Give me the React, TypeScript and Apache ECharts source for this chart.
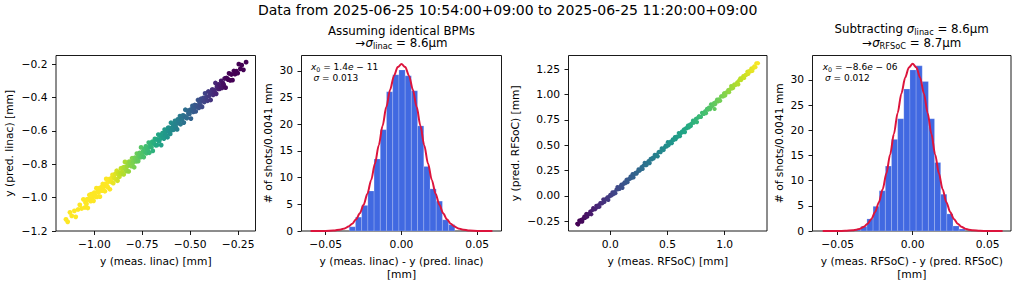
import React, { useEffect, useRef } from "react";
import * as echarts from "echarts";

// ---------- data ----------
const linacMeas = [
  -1.148, -1.139, -1.127, -1.118, -1.104, -1.097, -1.085, -1.076, -1.066, -1.057,
  -1.049, -1.046, -1.041, -1.038, -1.034, -1.031, -1.026, -1.022, -1.019, -1.015,
  -1.012, -1.007, -1.004, -1.0, -0.997, -0.993, -0.989, -0.986, -0.981, -0.978,
  -0.975, -0.971, -0.967, -0.964, -0.96, -0.956, -0.953, -0.949, -0.945, -0.942,
  -0.938, -0.935, -0.93, -0.927, -0.924, -0.919, -0.916, -0.912, -0.909, -0.905,
  -0.901, -0.898, -0.894, -0.89, -0.887, -0.883, -0.879, -0.876, -0.872, -0.869,
  -0.865, -0.861, -0.858, -0.854, -0.85, -0.847, -0.843, -0.84, -0.836, -0.832,
  -0.829, -0.825, -0.821, -0.818, -0.814, -0.811, -0.807, -0.803, -0.8, -0.796,
  -0.792, -0.789, -0.785, -0.782, -0.778, -0.774, -0.771, -0.767, -0.763, -0.76,
  -0.756, -0.753, -0.749, -0.745, -0.742, -0.738, -0.734, -0.731, -0.727, -0.724,
  -0.72, -0.716, -0.713, -0.709, -0.705, -0.702, -0.698, -0.695, -0.691, -0.687,
  -0.684, -0.68, -0.676, -0.673, -0.669, -0.666, -0.662, -0.658, -0.655, -0.651,
  -0.647, -0.644, -0.64, -0.637, -0.633, -0.629, -0.626, -0.622, -0.618, -0.615,
  -0.611, -0.608, -0.604, -0.6, -0.597, -0.593, -0.589, -0.586, -0.582, -0.579,
  -0.575, -0.571, -0.568, -0.564, -0.56, -0.557, -0.553, -0.55, -0.546, -0.542,
  -0.537, -0.533, -0.529, -0.525, -0.521, -0.517, -0.513, -0.509, -0.504, -0.5,
  -0.496, -0.492, -0.488, -0.484, -0.48, -0.476, -0.471, -0.467, -0.463, -0.459,
  -0.455, -0.451, -0.447, -0.443, -0.438, -0.434, -0.43, -0.426, -0.422, -0.418,
  -0.414, -0.409, -0.405, -0.401, -0.397, -0.393, -0.389, -0.385, -0.38, -0.376,
  -0.372, -0.368, -0.364, -0.36, -0.355, -0.351, -0.347, -0.343, -0.338, -0.334,
  -0.329, -0.325, -0.32, -0.315, -0.311, -0.306, -0.302, -0.297, -0.291, -0.285,
  -0.279, -0.272, -0.266, -0.259, -0.252, -0.246, -0.238, -0.231, -0.222, -0.208,
];
const linacPred = [
  -1.13, -1.145, -1.088, -1.109, -1.079, -1.115, -1.071, -1.043, -1.065, -1.01,
  -1.059, -1.029, -1.037, -1.01, -1.062, -1.009, -0.984, -1.012, -1.021, -0.979,
  -1.005, -0.984, -1.019, -0.97, -0.985, -0.994, -0.943, -0.995, -0.961, -0.969,
  -0.944, -0.994, -0.95, -0.938, -0.958, -0.918, -0.957, -0.935, -0.962, -0.917,
  -0.888, -0.929, -0.937, -0.905, -0.89, -0.95, -0.901, -0.884, -0.907, -0.864,
  -0.913, -0.878, -0.884, -0.857, -0.889, -0.839, -0.899, -0.858, -0.849, -0.875,
  -0.853, -0.825, -0.857, -0.847, -0.82, -0.861, -0.817, -0.786, -0.832, -0.841,
  -0.814, -0.8, -0.843, -0.784, -0.805, -0.789, -0.811, -0.764, -0.794, -0.782,
  -0.818, -0.761, -0.765, -0.783, -0.736, -0.764, -0.781, -0.75, -0.732, -0.758,
  -0.699, -0.755, -0.737, -0.722, -0.757, -0.708, -0.727, -0.693, -0.734, -0.706,
  -0.719, -0.67, -0.731, -0.694, -0.679, -0.698, -0.665, -0.72, -0.669, -0.677,
  -0.648, -0.686, -0.651, -0.685, -0.652, -0.622, -0.663, -0.649, -0.625, -0.685,
  -0.627, -0.613, -0.634, -0.646, -0.592, -0.615, -0.628, -0.599, -0.638, -0.581,
  -0.604, -0.582, -0.618, -0.551, -0.595, -0.581, -0.561, -0.593, -0.564, -0.54,
  -0.579, -0.556, -0.591, -0.531, -0.538, -0.553, -0.511, -0.56, -0.521, -0.532,
  -0.507, -0.55, -0.512, -0.473, -0.52, -0.523, -0.479, -0.497, -0.498, -0.474,
  -0.526, -0.47, -0.45, -0.486, -0.465, -0.445, -0.483, -0.447, -0.454, -0.415,
  -0.462, -0.428, -0.445, -0.407, -0.456, -0.42, -0.402, -0.427, -0.375, -0.411,
  -0.397, -0.419, -0.364, -0.391, -0.372, -0.415, -0.371, -0.352, -0.384, -0.354,
  -0.368, -0.313, -0.378, -0.334, -0.348, -0.321, -0.348, -0.331, -0.3, -0.343,
  -0.314, -0.324, -0.286, -0.341, -0.283, -0.286, -0.293, -0.255, -0.297, -0.262,
  -0.296, -0.241, -0.26, -0.242, -0.254, -0.2, -0.228, -0.206, -0.234, -0.188,
];

const rfsocMeas = [
  -0.289, -0.281, -0.271, -0.263, -0.254, -0.245, -0.237, -0.227, -0.219, -0.21,
  -0.201, -0.193, -0.183, -0.175, -0.166, -0.157, -0.149, -0.139, -0.131, -0.122,
  -0.113, -0.105, -0.095, -0.087, -0.078, -0.069, -0.061, -0.051, -0.043, -0.034,
  -0.025, -0.017, -0.007, 0.001, 0.01, 0.019, 0.027, 0.037, 0.045, 0.054,
  0.063, 0.071, 0.081, 0.089, 0.098, 0.107, 0.115, 0.125, 0.133, 0.142,
  0.151, 0.159, 0.169, 0.177, 0.186, 0.195, 0.203, 0.213, 0.221, 0.23,
  0.239, 0.247, 0.257, 0.265, 0.274, 0.283, 0.291, 0.301, 0.309, 0.318,
  0.327, 0.335, 0.345, 0.353, 0.362, 0.371, 0.379, 0.389, 0.397, 0.406,
  0.415, 0.423, 0.433, 0.441, 0.45, 0.459, 0.467, 0.477, 0.485, 0.494,
  0.503, 0.511, 0.521, 0.529, 0.538, 0.547, 0.555, 0.565, 0.573, 0.582,
  0.591, 0.599, 0.609, 0.617, 0.626, 0.635, 0.643, 0.653, 0.661, 0.67,
  0.679, 0.687, 0.697, 0.705, 0.714, 0.723, 0.731, 0.741, 0.749, 0.758,
  0.767, 0.775, 0.785, 0.793, 0.802, 0.811, 0.819, 0.829, 0.837, 0.846,
  0.855, 0.863, 0.873, 0.881, 0.89, 0.899, 0.907, 0.917, 0.925, 0.934,
  0.943, 0.951, 0.961, 0.969, 0.978, 0.987, 0.995, 1.005, 1.013, 1.022,
  1.031, 1.039, 1.049, 1.057, 1.066, 1.075, 1.083, 1.093, 1.101, 1.11,
  1.119, 1.127, 1.137, 1.145, 1.154, 1.163, 1.171, 1.181, 1.189, 1.198,
  1.207, 1.215, 1.225, 1.233, 1.242, 1.251, 1.259, 1.269, 1.277, 1.291,
  0.912,
];
const rfsocPred = [
  -0.275, -0.282, -0.244, -0.255, -0.236, -0.254, -0.226, -0.204, -0.216, -0.178,
  -0.205, -0.18, -0.178, -0.155, -0.181, -0.141, -0.12, -0.13, -0.13, -0.097,
  -0.111, -0.093, -0.107, -0.071, -0.073, -0.072, -0.035, -0.059, -0.033, -0.031,
  -0.013, -0.039, -0.004, 0.01, 0.004, 0.035, 0.017, 0.038, 0.027, 0.062,
  0.087, 0.067, 0.069, 0.095, 0.112, 0.08, 0.117, 0.135, 0.127, 0.16,
  0.136, 0.164, 0.168, 0.19, 0.177, 0.215, 0.183, 0.217, 0.228, 0.219,
  0.239, 0.262, 0.25, 0.262, 0.285, 0.267, 0.3, 0.327, 0.304, 0.305,
  0.329, 0.343, 0.324, 0.367, 0.36, 0.377, 0.369, 0.406, 0.393, 0.407,
  0.391, 0.433, 0.438, 0.433, 0.469, 0.458, 0.453, 0.48, 0.497, 0.488,
  0.531, 0.502, 0.521, 0.536, 0.521, 0.558, 0.552, 0.581, 0.561, 0.586,
  0.584, 0.62, 0.59, 0.619, 0.635, 0.63, 0.656, 0.63, 0.667, 0.669,
  0.694, 0.676, 0.705, 0.69, 0.717, 0.743, 0.723, 0.739, 0.76, 0.729,
  0.772, 0.787, 0.781, 0.78, 0.82, 0.812, 0.81, 0.836, 0.817, 0.86,
  0.852, 0.872, 0.857, 0.904, 0.884, 0.899, 0.917, 0.905, 0.929, 0.951,
  0.933, 0.953, 0.939, 0.982, 0.984, 0.982, 1.014, 0.991, 1.021, 1.021,
  1.045, 1.024, 1.055, 1.085, 1.062, 1.067, 1.1, 1.096, 1.1, 1.122,
  1.101, 1.141, 1.161, 1.144, 1.164, 1.183, 1.164, 1.194, 1.195, 1.226,
  1.205, 1.232, 1.229, 1.258, 1.233, 1.262, 1.279, 1.271, 1.309, 1.31,
  0.858,
];

// histogram bins (edges) and heights, "# of shots / 0.0041 mm"
const linacEdges = [
  -0.0345, -0.0304, -0.0263, -0.0222, -0.0181, -0.014, -0.0099, -0.0058, -0.0017,
  0.0024, 0.0065, 0.0106, 0.0147, 0.0188, 0.0229, 0.027, 0.0311, 0.0352,
];
const linacCounts = [0.8, 2.6, 4.8, 7.5, 13.5, 19, 26.1, 29.3, 30.2, 29.1, 26.3, 19.7, 12.1, 7.9, 5.6, 2.1, 1.2];

const rfsocEdges = [
  -0.0387, -0.0346, -0.0305, -0.0264, -0.0223, -0.0182, -0.0141, -0.01, -0.0059, -0.0018,
  0.0023, 0.0064, 0.0105, 0.0146, 0.0187, 0.0228, 0.0269, 0.031, 0.0351,
];
const rfsocCounts = [0.4, 0.9, 2.4, 4.9, 8.0, 12.9, 18.2, 22.3, 28.2, 32.0, 32.8, 29.7, 22.3, 13.6, 7.3, 3.4, 1.0, 0.4];

// fitted gaussian curves
const fitX = [
  -0.06, -0.055, -0.05, -0.045, -0.04, -0.0375, -0.035, -0.0325, -0.03, -0.0275, -0.025,
  -0.0225, -0.02, -0.0175, -0.015, -0.0125, -0.01, -0.0075, -0.005, -0.0025, 0,
  0.0025, 0.005, 0.0075, 0.01, 0.0125, 0.015, 0.0175, 0.02, 0.0225, 0.025,
  0.0275, 0.03, 0.0325, 0.035, 0.0375, 0.04, 0.045, 0.05, 0.055, 0.06,
];
const fitLinac = [
  0.0, 0.004, 0.019, 0.078, 0.28, 0.49, 0.83, 1.38, 2.18, 3.34, 4.93,
  7.0, 9.58, 12.65, 16.09, 19.71, 23.28, 26.5, 29.07, 30.73, 31.3,
  30.73, 29.07, 26.5, 23.28, 19.71, 16.09, 12.65, 9.58, 7.0, 4.93,
  3.34, 2.18, 1.38, 0.83, 0.49, 0.28, 0.078, 0.019, 0.004, 0.0,
];
const fitRfsoc = [
  0.0, 0.0, 0.005, 0.03, 0.13, 0.25, 0.47, 0.85, 1.46, 2.4, 3.79,
  5.72, 8.28, 11.46, 15.2, 19.3, 23.46, 27.31, 30.44, 32.49, 33.2,
  32.49, 30.44, 27.31, 23.46, 19.3, 15.2, 11.46, 8.28, 5.72, 3.79,
  2.4, 1.46, 0.85, 0.47, 0.25, 0.13, 0.03, 0.005, 0.0, 0.0,
];

// tick values
const ticksLinacX = [-1.0, -0.75, -0.5, -0.25];
const ticksLinacY = [-1.2, -1.0, -0.8, -0.6, -0.4, -0.2];
const ticksHistX = [-0.05, 0, 0.05];
const ticksHistY = [0, 5, 10, 15, 20, 25, 30];
const ticksRfsocX = [0, 0.5, 1.0];
const ticksRfsocY = [-0.25, 0, 0.25, 0.5, 0.75, 1.0, 1.25];

// ---------- styling ----------
const FONT = "DejaVu Sans";
const VIRIDIS = [
  "#440154", "#482475", "#414487", "#355f8d", "#2a788e", "#21918c",
  "#22a884", "#44bf70", "#7ad151", "#bddf26", "#fde725",
];
const TICK_FS = 10.7;

function fmt(v: number, d: number): string {
  const s = Math.abs(v) < 1e-12 ? (0).toFixed(d) : v.toFixed(d);
  return s.replace("-", "\u2212");
}

function valueAxis(o: {
  gridIndex: number; min: number; max: number; ticks: number[]; decimals: number;
  name: string; nameGap: number; isY: boolean;
}) {
  return {
    type: "value",
    gridIndex: o.gridIndex,
    min: o.min,
    max: o.max,
    name: o.name,
    nameLocation: "middle",
    nameGap: o.nameGap,
    nameRotate: o.isY ? 90 : 0,
    nameTextStyle: { color: "#000", fontFamily: FONT, fontSize: TICK_FS, lineHeight: 13.3 },
    axisLine: { show: false, onZero: false },
    axisTick: {
      show: true, inside: false, length: 4,
      lineStyle: { color: "#000", width: 0.9 },
      customValues: o.ticks,
    },
    axisLabel: {
      show: true, color: "#000", fontFamily: FONT, fontSize: TICK_FS,
      margin: o.isY ? 8.5 : 8,
      customValues: o.ticks,
      formatter: (v: number) => fmt(v, o.decimals),
    },
    splitLine: { show: false },
  };
}

function richStyles(size: number, lh: number, subH: number) {
  return {
    n: { fontFamily: FONT, fontSize: size, fill: "#000", lineHeight: lh },
    i: { fontFamily: FONT, fontSize: size, fontStyle: "italic", fill: "#000", lineHeight: lh },
    s: { fontFamily: FONT, fontSize: size * 0.7, fill: "#000", lineHeight: subH, verticalAlign: "bottom" },
  };
}

function gText(x: number, y: number, text: string, size: number, align: string, rich?: any) {
  return {
    type: "text",
    x, y,
    silent: true,
    style: {
      text,
      fontFamily: FONT,
      fontSize: size,
      fill: "#000",
      align,
      verticalAlign: "middle",
      textAlign: align,
      textVerticalAlign: "middle",
      rich,
    },
  };
}

function histRender(params: any, api: any) {
  const x0 = api.value(0);
  const x1 = api.value(1);
  const h = api.value(2);
  const p0 = api.coord([x0, h]);
  const p1 = api.coord([x1, 0]);
  return {
    type: "rect",
    shape: { x: p0[0], y: p0[1], width: p1[0] - p0[0], height: p1[1] - p0[1] },
    style: { fill: "#4169E1", stroke: "rgba(255,255,255,0.3)", lineWidth: 0.6 },
  };
}

const GRIDS = [
  { left: 56, width: 199.5 },
  { left: 301.5, width: 200 },
  { left: 568.5, width: 198.5 },
  { left: 812.5, width: 198.5 },
];

export default function App() {
  const ref = useRef<HTMLDivElement>(null);

  useEffect(() => {
    if (!ref.current) return;
    const chart = echarts.init(ref.current, undefined, { renderer: "svg" });

    const linacPts = linacMeas.map((x, i) => [x, linacPred[i]]);
    const rfsocPts = rfsocMeas.map((x, i) => [x, rfsocPred[i]]);
    const linacHist = linacCounts.map((c, i) => [linacEdges[i], linacEdges[i + 1], c]);
    const rfsocHist = rfsocCounts.map((c, i) => [rfsocEdges[i], rfsocEdges[i + 1], c]);
    const linacFit = fitX.map((x, i) => [x, fitLinac[i]]);
    const rfsocFit = fitX.map((x, i) => [x, fitRfsoc[i]]);

    const titleRich = richStyles(11.8, 14, 6.6);
    const annRich = richStyles(9, 11, 5.4);

    const option: any = {
      animation: false,
      backgroundColor: "#fff",
      grid: GRIDS.map((g) => ({
        left: g.left, top: 55.5, width: g.width, height: 175.5,
        show: true, borderColor: "#000", borderWidth: 0.9,
        backgroundColor: "transparent",
        containLabel: false, outerBoundsMode: "none",
      })),
      xAxis: [
        valueAxis({ gridIndex: 0, min: -1.2, max: -0.159, ticks: ticksLinacX, decimals: 2, name: "y (meas. linac) [mm]", nameGap: 22.6, isY: false }),
        valueAxis({ gridIndex: 1, min: -0.066, max: 0.066, ticks: ticksHistX, decimals: 2, name: "y (meas. linac) - y (pred. linac)\n[mm]", nameGap: 23.3, isY: false }),
        valueAxis({ gridIndex: 2, min: -0.365, max: 1.37, ticks: ticksRfsocX, decimals: 1, name: "y (meas. RFSoC) [mm]", nameGap: 22.6, isY: false }),
        valueAxis({ gridIndex: 3, min: -0.0668, max: 0.0656, ticks: ticksHistX, decimals: 2, name: "y (meas. RFSoC) - y (pred. RFSoC)\n[mm]", nameGap: 23.3, isY: false }),
      ],
      yAxis: [
        valueAxis({ gridIndex: 0, min: -1.2, max: -0.148, ticks: ticksLinacY, decimals: 1, name: "y (pred. linac) [mm]", nameGap: 40, isY: true }),
        valueAxis({ gridIndex: 1, min: 0, max: 32.9, ticks: ticksHistY, decimals: 0, name: "# of shots/0.0041 mm", nameGap: 25.3, isY: true }),
        valueAxis({ gridIndex: 2, min: -0.346, max: 1.386, ticks: ticksRfsocY, decimals: 2, name: "y (pred. RFSoC) [mm]", nameGap: 46.3, isY: true }),
        valueAxis({ gridIndex: 3, min: 0, max: 34.86, ticks: ticksHistY, decimals: 0, name: "# of shots/0.0041 mm", nameGap: 24.8, isY: true }),
      ],
      visualMap: [
        {
          type: "continuous", show: false, seriesIndex: 0, dimension: 0,
          min: -0.92, max: -0.3, inRange: { color: VIRIDIS.slice().reverse() },
        },
        {
          type: "continuous", show: false, seriesIndex: 3, dimension: 0,
          min: -0.28, max: 1.3, inRange: { color: VIRIDIS },
        },
      ],
      series: [
        {
          type: "scatter", xAxisIndex: 0, yAxisIndex: 0, data: linacPts,
          symbol: "circle", symbolSize: 4.8, itemStyle: { opacity: 1 }, silent: true,
        },
        {
          type: "custom", xAxisIndex: 1, yAxisIndex: 1, data: linacHist,
          renderItem: histRender, encode: { x: [0, 1], y: 2 }, silent: true, z: 2,
        },
        {
          type: "line", xAxisIndex: 1, yAxisIndex: 1, data: linacFit,
          showSymbol: false, symbol: "none", smooth: 0.3, smoothMonotone: "x",
          lineStyle: { color: "#DC143C", width: 2 }, silent: true, z: 3,
        },
        {
          type: "scatter", xAxisIndex: 2, yAxisIndex: 2, data: rfsocPts,
          symbol: "circle", symbolSize: 4.2, itemStyle: { opacity: 1 }, silent: true,
        },
        {
          type: "custom", xAxisIndex: 3, yAxisIndex: 3, data: rfsocHist,
          renderItem: histRender, encode: { x: [0, 1], y: 2 }, silent: true, z: 2,
        },
        {
          type: "line", xAxisIndex: 3, yAxisIndex: 3, data: rfsocFit,
          showSymbol: false, symbol: "none", smooth: 0.3, smoothMonotone: "x",
          lineStyle: { color: "#DC143C", width: 2 }, silent: true, z: 3,
        },
      ],
      graphic: [
        gText(507.7, 9.5, "Data from 2025-06-25 10:54:00+09:00 to 2025-06-25 11:20:00+09:00", 14, "center"),
        gText(401.5, 30.7, "Assuming identical BPMs", 11.8, "center"),
        gText(401.5, 43.3, "{n|\u2192}{i|\u03c3}{s|linac}{n| = 8.6\u03bcm}", 11.8, "center", titleRich),
        gText(911.7, 29.3, "{n|Subtracting }{i|\u03c3}{s|linac}{n| = 8.6\u03bcm}", 11.8, "center", titleRich),
        gText(911.7, 43.3, "{n|\u2192}{i|\u03c3}{s|RFSoC}{n| = 8.7\u03bcm}", 11.8, "center", titleRich),
        gText(311, 66.7, "{i|x}{s|0}{n| = 1.4}{i|e}{n| \u2212 11}", 9, "left", annRich),
        gText(313.5, 78.3, "{i|\u03c3}{n| = 0.013}", 9, "left", annRich),
        gText(822.7, 67.3, "{i|x}{s|0}{n| = \u22128.6}{i|e}{n| \u2212 06}", 9, "left", annRich),
        gText(825, 78.3, "{i|\u03c3}{n| = 0.012}", 9, "left", annRich),
      ],
    };

    chart.setOption(option);
    return () => chart.dispose();
  }, []);

  return (
    <div
      ref={ref}
      style={{ position: "absolute", left: 0, top: 0, width: 1016, height: 284, background: "#fff" }}
    />
  );
}
